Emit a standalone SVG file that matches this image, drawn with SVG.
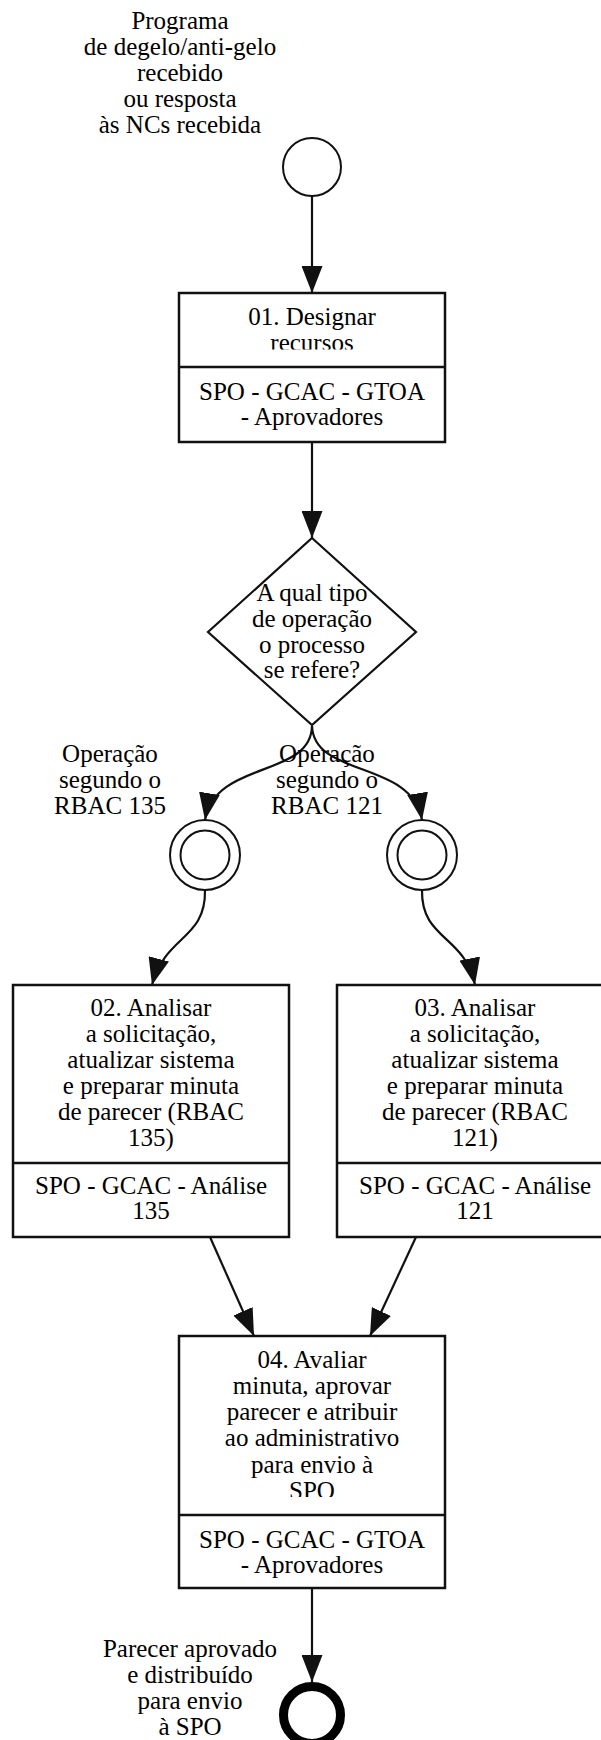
<svg xmlns="http://www.w3.org/2000/svg" width="601" height="1740" viewBox="0 0 601 1740">
<style>
.t{font-family:"Liberation Serif","Times New Roman",serif;font-size:25px;fill:#000;text-anchor:middle}
.box{fill:#fff;stroke:#111;stroke-width:2.5}
.div{stroke:#111;stroke-width:2.5}
.edge{fill:none;stroke:#111;stroke-width:2.2;marker-end:url(#arr)}
.ev{fill:#fff;stroke:#111;stroke-width:2}
</style>
<defs>
<marker id="arr" markerUnits="userSpaceOnUse" viewBox="0 0 27 21" markerWidth="27" markerHeight="21" refX="27" refY="10.5" orient="auto"><path d="M0,0 L27,10.5 L0,21 z" fill="#111"/></marker>
<clipPath id="c1"><rect x="179" y="293" width="266" height="56.5"/></clipPath>
<clipPath id="c4"><rect x="179" y="1336" width="266" height="161"/></clipPath>
</defs>
<rect x="0" y="0" width="601" height="1740" fill="#fff"/>

<g id="connectors">
<path class="edge" d="M312,196 L312,293"/>
<path class="edge" d="M312,442 L312,538"/>
<path class="edge" d="M312,726 C311,778 215,760 205,820"/>
<path class="edge" d="M312,726 C314,778 412,760 422,820"/>
<path class="edge" d="M205,890 C206,940 165,935 152,985"/>
<path class="edge" d="M422,890 C421,940 465,935 475,985"/>
<path class="edge" d="M210,1237 L254,1336"/>
<path class="edge" d="M416,1237 L370,1336"/>
<path class="edge" d="M312,1588 L312,1682"/>
<text class="t"><tspan x="110" y="762">Operação</tspan><tspan x="110" y="788">segundo o</tspan><tspan x="110" y="814">RBAC 135</tspan></text>
<text class="t"><tspan x="327" y="762">Operação</tspan><tspan x="327" y="788">segundo o</tspan><tspan x="327" y="814">RBAC 121</tspan></text>
</g>

<g id="start">
<text class="t"><tspan x="180" y="29">Programa</tspan><tspan x="180" y="55">de degelo/anti-gelo</tspan><tspan x="180" y="81">recebido</tspan><tspan x="180" y="107">ou resposta</tspan><tspan x="180" y="133">às NCs recebida</tspan></text>
<circle class="ev" cx="312" cy="167" r="29"/>
</g>

<g id="task01">
<rect class="box" x="179" y="293" width="266" height="149"/>
<line class="div" x1="179" y1="367" x2="445" y2="367"/>
<text class="t" clip-path="url(#c1)"><tspan x="312" y="325">01. Designar</tspan><tspan x="312" y="351">recursos</tspan></text>
<text class="t"><tspan x="312" y="400">SPO - GCAC - GTOA</tspan><tspan x="312" y="425">- Aprovadores</tspan></text>
</g>

<g id="gateway">
<polygon points="312,538 416,632 312,725 208,632" fill="#fff" stroke="#111" stroke-width="2.2"/>
<text class="t"><tspan x="312" y="601">A qual tipo</tspan><tspan x="312" y="627">de operação</tspan><tspan x="312" y="652.5">o processo</tspan><tspan x="312" y="678">se refere?</tspan></text>
</g>

<g id="event135">
<circle class="ev" cx="205" cy="855" r="35"/>
<circle class="ev" cx="205" cy="855" r="24.5"/>
</g>

<g id="event121">
<circle class="ev" cx="422" cy="855" r="35"/>
<circle class="ev" cx="422" cy="855" r="24.5"/>
</g>

<g id="task02">
<rect class="box" x="13" y="985" width="276" height="252"/>
<line class="div" x1="13" y1="1163" x2="289" y2="1163"/>
<text class="t"><tspan x="151" y="1016">02. Analisar</tspan><tspan x="151" y="1042">a solicitação,</tspan><tspan x="151" y="1068">atualizar sistema</tspan><tspan x="151" y="1094">e preparar minuta</tspan><tspan x="151" y="1120">de parecer (RBAC</tspan><tspan x="151" y="1146">135)</tspan></text>
<text class="t"><tspan x="151" y="1194">SPO - GCAC - Análise</tspan><tspan x="151" y="1219">135</tspan></text>
</g>

<g id="task03">
<rect class="box" x="337" y="985" width="276" height="252"/>
<line class="div" x1="337" y1="1163" x2="613" y2="1163"/>
<text class="t"><tspan x="475" y="1016">03. Analisar</tspan><tspan x="475" y="1042">a solicitação,</tspan><tspan x="475" y="1068">atualizar sistema</tspan><tspan x="475" y="1094">e preparar minuta</tspan><tspan x="475" y="1120">de parecer (RBAC</tspan><tspan x="475" y="1146">121)</tspan></text>
<text class="t"><tspan x="475" y="1194">SPO - GCAC - Análise</tspan><tspan x="475" y="1219">121</tspan></text>
</g>

<g id="task04">
<rect class="box" x="179" y="1336" width="266" height="252"/>
<line class="div" x1="179" y1="1515" x2="445" y2="1515"/>
<text class="t" clip-path="url(#c4)"><tspan x="312" y="1368">04. Avaliar</tspan><tspan x="312" y="1394">minuta, aprovar</tspan><tspan x="312" y="1420">parecer e atribuir</tspan><tspan x="312" y="1446">ao administrativo</tspan><tspan x="312" y="1472.5">para envio à</tspan><tspan x="312" y="1499">SPO</tspan></text>
<text class="t"><tspan x="312" y="1547.5">SPO - GCAC - GTOA</tspan><tspan x="312" y="1573">- Aprovadores</tspan></text>
</g>

<g id="end">
<text class="t"><tspan x="190" y="1657">Parecer aprovado</tspan><tspan x="190" y="1683">e distribuído</tspan><tspan x="190" y="1709">para envio</tspan><tspan x="190" y="1735">à SPO</tspan></text>
<circle cx="312" cy="1715" r="28.5" fill="#fff" stroke="#000" stroke-width="9"/>
</g>
</svg>
